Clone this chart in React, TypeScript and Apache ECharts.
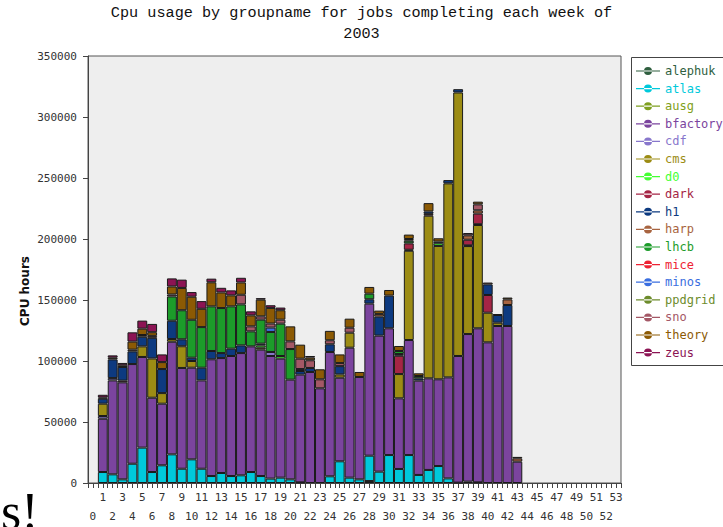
import React, { useEffect, useRef } from 'react';
import * as echarts from 'echarts';

// Category labels (weeks 0..53)
const weekLabels = [
  '0','1','2','3','4','5','6','7','8','9','10','11','12','13','14','15','16','17','18','19',
  '20','21','22','23','24','25','26','27','28','29','30','31','32','33','34','35','36','37','38','39',
  '40','41','42','43','44','45','46','47','48','49','50','51','52','53'
];

const groupNames = ['alephuk','atlas','ausg','bfactory','cdf','cms','d0','dark','h1','harp','lhcb','mice','minos','ppdgrid','sno','theory','zeus'];
const groupColors = ['#2f5f3f','#00c9db','#7fa020','#7b449e','#8877cc','#9c8c14','#44ff33','#a52545','#0d3a80','#a86440','#1c9c2a','#ee2233','#3a6ee0','#6d8c2c','#a45866','#8c5a04','#8c1454'];

// CPU hours per group, weeks 1..43
const alephuk = [0,0,0,0,0,0,0,0,0,0, 0,0,0,0,0,0,0,0,0,0, 0,0,0,0,0,0,0,1600,0,0, 0,0,0,0,0,0,0,0,0,0, 0,0,0];
const atlas = [9000,7100,3000,15800,29000,9000,14500,23500,11700,19400, 11700,5700,8200,5700,6300,9000,5700,3600,4400,3000, 500,0,0,5500,17800,4400,3000,20800,9300,22900, 11500,22900,6600,10700,13900,3800,300,1100,500,0, 0,0,0];
const ausg = [0,0,0,0,0,0,0,0,0,0, 0,0,0,0,0,0,0,0,0,0, 0,0,0,0,0,0,0,0,0,0, 0,0,0,0,0,0,0,0,0,0, 0,0,0];
const bfactory = [43700,77000,79500,81700,74300,60900,50500,92300,82600,75100, 72400,95700,94200,98400,100200,103000,103600,100500,97500,81700, 88300,91000,77600,101900,68500,106500,83900,124600,111500,103900, 57900,94300,77300,75100,71100,82800,103800,121000,126300,115300, 128700,128700,17500];
const cdf = [2200,1900,0,0,0,0,0,0,0,0, 0,0,0,0,0,0,0,3300,0,0, 0,0,0,0,0,0,0,0,0,0, 0,0,0,0,0,0,0,0,0,0, 0,0,0];
const cms = [10100,0,0,0,8700,32200,8700,2200,17800,5500, 0,0,0,0,0,0,1600,0,0,0, 0,0,0,0,2700,12300,0,0,0,0, 19900,73200,0,133300,109300,159000,216000,72100,84700,24300, 2700,0,0];
const d0 = [0,0,0,0,0,0,0,0,0,0, 0,0,0,0,0,0,1900,0,2200,0, 0,0,0,0,0,0,0,0,0,0, 0,800,0,0,2200,0,0,600,600,0, 0,0,0];
const dark = [0,0,1400,0,0,0,0,0,0,0, 0,0,0,0,0,0,0,0,0,0, 0,0,0,0,0,0,0,0,0,0, 15000,5200,0,1500,0,0,0,4600,8700,14500, 0,0,0];
const h1 = [4100,15300,11200,10400,7900,16900,19700,15000,5700,2700, 10400,6800,4100,6000,6300,0,1400,0,0,0, 3000,3300,0,6300,6800,0,0,3600,15600,26800, 1400,0,1900,2000,1400,2700,2700,0,0,8700, 6300,17200,0];
const harp = [0,0,0,1400,1400,1600,0,0,0,0, 0,0,0,0,0,0,0,0,0,0, 1600,0,0,0,0,0,0,0,2200,0, 0,0,0,0,0,0,0,3600,2700,1500, 800,4600,2700];
const lhcb = [0,0,0,0,0,0,0,19900,23800,31100, 33300,36600,36900,34700,33600,12300,19700,16400,26500,25100, 0,0,0,0,0,0,0,4600,0,0, 2500,2200,1900,0,0,0,0,0,0,0, 0,0,0];
const mice = [0,0,0,0,0,0,0,0,0,0, 0,0,0,0,0,0,0,0,0,0, 0,0,0,0,0,0,0,0,0,0, 0,0,0,0,0,0,0,0,0,0, 0,0,0];
const minos = [0,0,0,0,0,0,0,0,0,0, 0,0,0,0,0,0,0,3600,0,0, 0,0,0,0,0,0,0,0,0,0, 0,0,0,0,0,0,0,0,0,0, 0,0,0];
const ppdgrid = [0,0,0,0,0,0,0,0,0,0, 0,0,0,0,0,0,0,0,0,0, 0,0,0,0,0,0,0,0,0,0, 0,0,0,0,0,0,0,0,0,0, 0,0,0];
const sno = [0,0,0,0,0,0,0,1600,0,0, 0,0,0,0,7900,4100,2700,3300,3300,6300, 8500,6300,7400,3300,2500,4100,0,0,0,0, 0,1400,0,0,0,0,0,1900,4900,0, 0,0,0];
const theory = [1000,1400,1400,6600,5200,3000,5700,6600,18300,18900, 15000,19700,12800,9000,10100,9000,13700,12800,7700,12300, 11500,2200,8200,7700,7100,7400,4100,5500,2700,4600, 4100,3600,2200,6800,2700,0,0,0,2200,0, 0,1500,1200];
const zeus = [2200,1900,1900,7600,6600,6800,6300,6600,6800,3800, 6300,3000,3800,4100,3800,3300,1200,2200,2200,0, 0,1300,0,0,0,0,0,0,0,0, 0,0,0,0,0,0,0,0,0,0, 0,0,0];

const groupValues = [alephuk, atlas, ausg, bfactory, cdf, cms, d0, dark, h1, harp, lhcb, mice, minos, ppdgrid, sno, theory, zeus];

const MONO = '"DejaVu Sans Mono", monospace';
const TITLE_FONT = '"Liberation Mono", monospace';

function toCategoryData(vals: number[]) {
  const out: (number | null)[] = weekLabels.map(() => null);
  vals.forEach((v, i) => { out[i + 1] = v > 0 ? v : null; });
  return out;
}

export default function App() {
  const ref = useRef<HTMLDivElement>(null);
  useEffect(() => {
    document.body.style.margin = '0';
    if (!ref.current) return;
    const chart = echarts.init(ref.current, undefined, { renderer: 'svg' });
    const option: any = {
      animation: false,
      backgroundColor: '#ffffff',
      title: {
        text: 'Cpu usage by groupname for jobs completing each week of\n2003',
        left: 'center',
        top: 2.5,
        padding: 0,
        textStyle: { fontFamily: TITLE_FONT, fontSize: 15.2, fontWeight: 'normal', color: '#111', lineHeight: 21 },
      },
      grid: { left: 88, right: 102, top: 56, bottom: 44, show: true, backgroundColor: '#eeeeee', borderColor: '#555', borderWidth: 1 },
      legend: {
        orient: 'vertical',
        left: 636,
        top: 65,
        padding: 0,
        itemWidth: 24,
        itemHeight: 8,
        itemGap: 5.6,
        icon: 'path://M0,4.4h24v1.2h-24z M8,5a4,4 0 1,0 8,0a4,4 0 1,0 -8,0z',
        itemStyle: { borderWidth: 0 },
        textStyle: { fontFamily: MONO, fontSize: 12, lineHeight: 10 },
        data: groupNames.map((n, i) => ({ name: n, textStyle: { color: groupColors[i] } })),
      },
      xAxis: [
        {
          type: 'category',
          data: weekLabels,
          position: 'bottom',
          axisLine: { lineStyle: { color: '#444' } },
          axisTick: { show: true, interval: 0, length: 5, lineStyle: { color: '#444' } },
          axisLabel: { show: false },
          splitLine: { show: false },
        },
        {
          type: 'category',
          data: weekLabels,
          position: 'bottom',
          axisLine: { show: false },
          axisTick: { show: true, interval: 0, alignWithLabel: true, length: 5, lineStyle: { color: '#444' } },
          axisLabel: {
            interval: 0,
            margin: 5,
            fontFamily: MONO,
            fontSize: 11,
            lineHeight: 19,
            color: '#333',
            formatter: (v: string, i: number) => (i % 2 === 1 ? v : '\n' + v),
          },
          splitLine: { show: false },
        },
      ],
      yAxis: {
        type: 'value',
        min: 0,
        max: 350000,
        interval: 50000,
        axisLine: { show: true, lineStyle: { color: '#444' } },
        axisTick: { show: true, length: 5, lineStyle: { color: '#444' } },
        axisLabel: { margin: 11, fontFamily: MONO, fontSize: 11, color: '#333', formatter: (v: number) => String(v) },
        splitLine: { show: false },
      },
      series: groupNames.map((n, i) => ({
        name: n,
        type: 'bar',
        stack: 'total',
        xAxisIndex: 0,
        barCategoryGap: '0%',
        itemStyle: { color: groupColors[i], borderColor: '#1a1a1a', borderWidth: 1 },
        data: toCategoryData(groupValues[i]),
      })),
      graphic: [
        {
          type: 'rect',
          z: -1,
          shape: { x: 631.5, y: 57.5, width: 100, height: 308 },
          style: { fill: '#ffffff', stroke: '#444', lineWidth: 1 },
        },
        {
          type: 'text',
          x: 25,
          y: 291,
          rotation: Math.PI / 2,
          style: {
            text: 'CPU hours',
            font: 'bold 12px "DejaVu Sans"',
            fill: '#111',
            textAlign: 'center',
            textVerticalAlign: 'middle',
            align: 'center',
            verticalAlign: 'middle',
          },
        },
        {
          type: 'text',
          x: 1,
          y: 485,
          style: {
            text: 's!',
            font: '52px "Liberation Serif"',
            fill: '#000',
            textAlign: 'left',
            textVerticalAlign: 'top',
            align: 'left',
            verticalAlign: 'top',
          },
        },
      ],
    };
    chart.setOption(option);
    return () => chart.dispose();
  }, []);
  return <div ref={ref} style={{ width: 723, height: 527 }} />;
}
